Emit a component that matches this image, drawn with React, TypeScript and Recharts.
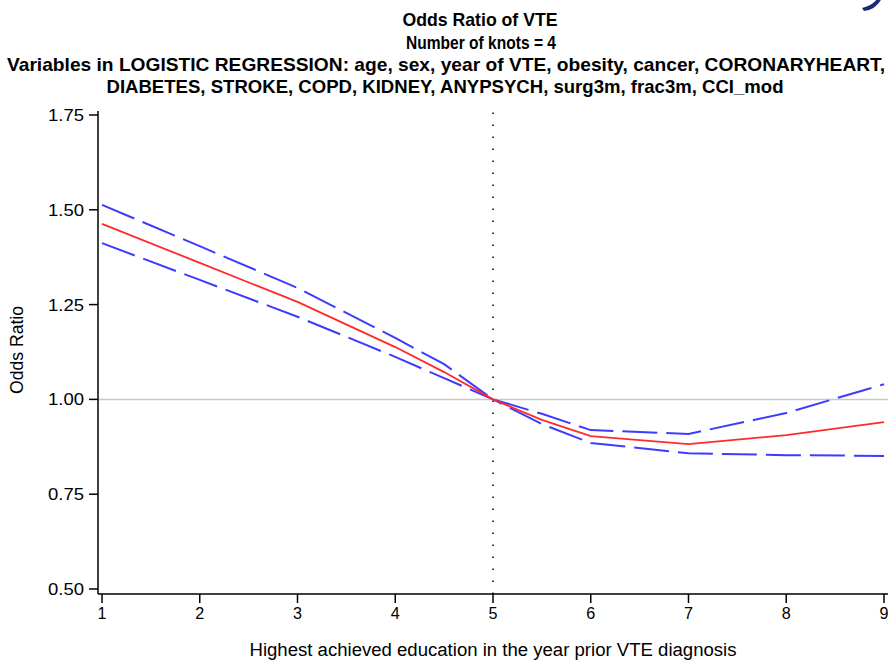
import React from "react";
import { LineChart, Line, XAxis, YAxis, ReferenceLine } from "recharts";

const xValues = [1, 2, 3, 4, 4.5, 5, 5.5, 6, 7, 8, 9];
const oddsRatio = [1.463, 1.36, 1.257, 1.138, 1.072, 1.0, 0.946, 0.903, 0.882, 0.906, 0.94];
const upperCI = [1.513, 1.404, 1.294, 1.162, 1.093, 1.0, 0.962, 0.919, 0.909, 0.964, 1.04];
const lowerCI = [1.412, 1.315, 1.218, 1.112, 1.056, 1.0, 0.935, 0.885, 0.858, 0.853, 0.851];
const xTicks = [1, 2, 3, 4, 5, 6, 7, 8, 9];
const yTicks = [0.5, 0.75, 1.0, 1.25, 1.5, 1.75];

const data = xValues.map((x, i) => ({
  x,
  or: oddsRatio[i],
  up: upperCI[i],
  lo: lowerCI[i],
}));

const W = 888;
const H = 661;
const narrow = "'Liberation Sans Narrow', 'Arial Narrow', 'Liberation Sans', Arial, sans-serif";
const sans = "'Liberation Sans', Arial, sans-serif";

const XTick = (props: any) => {
  const { x, y, payload } = props;
  return (
    <text x={x} y={y + 14} textAnchor="middle" fontFamily={sans} fontSize={17} fill="#000" textLength={9} lengthAdjust="spacingAndGlyphs">
      {String(payload.value)}
    </text>
  );
};

const YTick = (props: any) => {
  const { x, y, payload } = props;
  return (
    <text x={x} y={y + 6} textAnchor="end" fontFamily={sans} fontSize={17} fill="#000" textLength={36} lengthAdjust="spacingAndGlyphs">
      {Number(payload.value).toFixed(2)}
    </text>
  );
};

export default function App() {
  return (
    <div style={{ position: "absolute", left: 0, top: 0, width: W, height: H, background: "#fff", overflow: "hidden" }}>
      <LineChart
        width={W}
        height={H}
        data={data}
        margin={{ top: 111, right: 0, bottom: 0, left: 0 }}
      >
        <XAxis
          dataKey="x"
          type="number"
          domain={[0.959, 9.041]}
          ticks={xTicks}
          allowDataOverflow
          height={67}
          tickSize={9}
          tickMargin={2}
          axisLine={{ stroke: "#000", strokeWidth: 1.5 }}
          tickLine={{ stroke: "#000", strokeWidth: 1.5 }}
          tick={<XTick />}
        />
        <XAxis
          xAxisId="top"
          dataKey="x"
          type="number"
          orientation="top"
          domain={[0.959, 9.041]}
          height={0}
          tick={false}
          tickLine={false}
          axisLine={{ stroke: "#444", strokeWidth: 1.5 }}
        />
        <YAxis
          type="number"
          domain={[0.4868, 1.7605]}
          ticks={yTicks}
          allowDataOverflow
          width={98}
          tickSize={9}
          tickMargin={5}
          axisLine={{ stroke: "#000", strokeWidth: 1.5 }}
          tickLine={{ stroke: "#000", strokeWidth: 1.5 }}
          tick={<YTick />}
        />
        <ReferenceLine y={1} stroke="#c8c8c8" strokeWidth={1.5} />
        <ReferenceLine x={5} stroke="#000" strokeWidth={1.5} strokeDasharray="1.5 10.5" />
        <Line
          dataKey="up"
          type="linear"
          stroke="#3c3cff"
          strokeWidth={2}
          strokeDasharray="35 9"
          dot={false}
          isAnimationActive={false}
        />
        <Line
          dataKey="lo"
          type="linear"
          stroke="#3c3cff"
          strokeWidth={2}
          strokeDasharray="35 9"
          dot={false}
          isAnimationActive={false}
        />
        <Line
          dataKey="or"
          type="linear"
          stroke="#ff2a2a"
          strokeWidth={1.8}
          dot={false}
          isAnimationActive={false}
        />
      </LineChart>
      <svg
        width={W}
        height={H}
        style={{ position: "absolute", left: 0, top: 0, pointerEvents: "none" }}
      >
        <path d="M 862 8 Q 872 6 878 -2 L 882 -2 Q 876 10 864 11 Z" fill="#1a2a7a" />
        <text x={480} y={26} textAnchor="middle" fontFamily={narrow} fontWeight="bold" fontSize={19} fill="#000" textLength={155} lengthAdjust="spacingAndGlyphs">
          Odds Ratio of VTE
        </text>
        <text x={481} y={49} textAnchor="middle" fontFamily={narrow} fontWeight="bold" fontSize={18} fill="#000" textLength={150} lengthAdjust="spacingAndGlyphs">
          Number of knots = 4
        </text>
        <text x={446} y={71} textAnchor="middle" fontFamily={narrow} fontWeight="bold" fontSize={19} fill="#000" textLength={878} lengthAdjust="spacingAndGlyphs">
          Variables in LOGISTIC REGRESSION: age, sex, year of VTE, obesity, cancer, CORONARYHEART,
        </text>
        <text x={445} y={93} textAnchor="middle" fontFamily={narrow} fontWeight="bold" fontSize={19} fill="#000" textLength={677} lengthAdjust="spacingAndGlyphs">
          DIABETES, STROKE, COPD, KIDNEY, ANYPSYCH, surg3m, frac3m, CCI_mod
        </text>
        <text x={493} y={656} textAnchor="middle" fontFamily={sans} fontSize={18} fill="#000" textLength={487} lengthAdjust="spacingAndGlyphs">
          Highest achieved education in the year prior VTE diagnosis
        </text>
        <text
          x={0}
          y={0}
          transform="translate(23 350) rotate(-90)"
          textAnchor="middle"
          fontFamily={sans}
          fontSize={18}
          fill="#000"
          textLength={88}
          lengthAdjust="spacingAndGlyphs"
        >
          Odds Ratio
        </text>
      </svg>
    </div>
  );
}
